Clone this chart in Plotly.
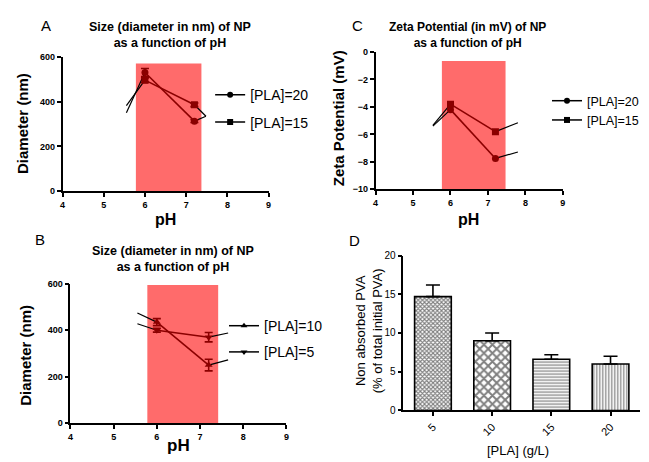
import plotly.graph_objects as go

W, H = 649, 462
FONT = "Liberation Sans, Arial, sans-serif"
DARK = "#8B0000"
PINK = "#FF6B6B"

# ---------------- data ----------------
ph = [6, 7.2]
ph_ticks = [4, 5, 6, 7, 8, 9]

# Panel A: diameter (nm)
a_pla20 = [530, 313]
a_pla20_err = [18, 6]
a_pla15 = [496, 386]
a_pla15_err = [10, 8]
a_zone = [5.78, 7.37, 0, 570]
a_ext_left_x = [5.55, 6]
a_ext20_left = [350, 530]
a_ext15_left = [382, 496]
a_ext_right_x = [7.2, 7.48]
a_ext20_right = [313, 335]
a_ext15_right = [386, 335]

# Panel B: diameter (nm)
b_pla10 = [435, 250]
b_pla10_err = [15, 25]
b_pla5 = [400, 370]
b_pla5_err = [8, 20]
b_zone = [5.78, 7.42, 0, 595]
b_ext_left_x = [5.55, 6]
b_ext10_left = [474, 435]
b_ext5_left = [428, 400]
b_ext_right_x = [7.2, 7.65]
b_ext10_right = [250, 272]
b_ext5_right = [370, 388]

# Panel C: zeta potential (mV)
c_pla20 = [-4.2, -7.75]
c_pla15 = [-3.8, -5.8]
c_zone = [5.77, 7.47, -10.2, -0.65]
c_ext_left_x = [5.53, 6]
c_ext20_left = [-5.4, -4.2]
c_ext15_left = [-5.35, -3.8]
c_ext_right_x = [7.2, 7.8]
c_ext20_right = [-7.75, -7.28]
c_ext15_right = [-5.8, -5.15]

# Panel D: non absorbed PVA (%)
d_cats = ["5", "10", "15", "20"]
d_vals = [14.7, 9.0, 6.6, 6.0]
d_err = [1.5, 1.0, 0.6, 1.0]
d_patterns = ["x", "x", "-", "|"]
d_pattern_sizes = [3, 6, 3, 3]
d_pattern_solidity = [0.6, 0.55, 0.4, 0.4]


def px(x):
    return x / W


def py(y):
    return 1 - y / H


fig = go.Figure()

axis_common = dict(showline=True, linecolor="black", linewidth=1.6, ticks="outside",
                   ticklen=4, tickwidth=1.5, tickcolor="black", showgrid=False,
                   zeroline=False, tickfont=dict(family=FONT, size=9, color="black", weight="bold"))


def add_line(x, y, xa, ya, color, symbol, err=None):
    fig.add_trace(go.Scatter(
        x=x, y=y, xaxis=xa, yaxis=ya, mode="lines+markers",
        line=dict(color=color, width=1.6),
        marker=dict(symbol=symbol, size=7, color=color),
        error_y=(dict(type="data", array=err, color=color, thickness=1.6, width=4)
                 if err else None),
        showlegend=False, hoverinfo="skip"))


def add_ext(x, y, xa, ya):
    fig.add_trace(go.Scatter(x=x, y=y, xaxis=xa, yaxis=ya, mode="lines",
                             line=dict(color="black", width=1.2),
                             showlegend=False, hoverinfo="skip"))


def add_legend(name, symbol, legend, group):
    fig.add_trace(go.Scatter(x=[None], y=[None], mode="lines+markers", name=name,
                             line=dict(color="black", width=1.5),
                             marker=dict(symbol=symbol, size=6, color="black"),
                             legend=legend, legendgroup=group, showlegend=True))


# Panel A (x, y)
add_ext(a_ext_left_x, a_ext20_left, "x", "y")
add_ext(a_ext_left_x, a_ext15_left, "x", "y")
add_ext(a_ext_right_x, a_ext20_right, "x", "y")
add_ext(a_ext_right_x, a_ext15_right, "x", "y")
add_line(ph, a_pla20, "x", "y", DARK, "circle", a_pla20_err)
add_line(ph, a_pla15, "x", "y", DARK, "square", a_pla15_err)
add_legend("[PLA]=20", "circle", "legend", "a1")
add_legend("[PLA]=15", "square", "legend", "a2")

# Panel C (x2, y2)
add_ext(c_ext_left_x, c_ext20_left, "x2", "y2")
add_ext(c_ext_left_x, c_ext15_left, "x2", "y2")
add_ext(c_ext_right_x, c_ext20_right, "x2", "y2")
add_ext(c_ext_right_x, c_ext15_right, "x2", "y2")
add_line(ph, c_pla20, "x2", "y2", DARK, "circle")
add_line(ph, c_pla15, "x2", "y2", DARK, "square")
add_legend("[PLA]=20", "circle", "legend2", "c1")
add_legend("[PLA]=15", "square", "legend2", "c2")

# Panel B (x3, y3)
add_ext(b_ext_left_x, b_ext10_left, "x3", "y3")
add_ext(b_ext_left_x, b_ext5_left, "x3", "y3")
add_ext(b_ext_right_x, b_ext10_right, "x3", "y3")
add_ext(b_ext_right_x, b_ext5_right, "x3", "y3")
add_line(ph, b_pla10, "x3", "y3", DARK, "triangle-up", b_pla10_err)
add_line(ph, b_pla5, "x3", "y3", DARK, "triangle-down", b_pla5_err)
add_legend("[PLA]=10", "triangle-up", "legend3", "b1")
add_legend("[PLA]=5", "triangle-down", "legend3", "b2")

# Panel D (x4, y4)
fig.add_trace(go.Bar(
    x=d_cats, y=d_vals, xaxis="x4", yaxis="y4", width=0.62,
    marker=dict(color="white", line=dict(color="black", width=1.6),
                pattern=dict(shape=d_patterns, size=d_pattern_sizes,
                             solidity=d_pattern_solidity,
                             fgcolor="black", bgcolor="white", fillmode="overlay")),
    error_y=dict(type="data", symmetric=False, array=d_err, arrayminus=[0] * len(d_err),
                 color="black", thickness=1.6, width=7),
    showlegend=False, hoverinfo="skip"))

# shapes (pH zones)
for xa, ya, z in [("x", "y", a_zone), ("x2", "y2", c_zone), ("x3", "y3", b_zone)]:
    fig.add_shape(type="rect", xref=xa, yref=ya, x0=z[0], x1=z[1], y0=z[2], y1=z[3],
                  fillcolor=PINK, line=dict(width=0), layer="below")

fig.update_layout(
    width=W, height=H, autosize=False,
    margin=dict(l=0, r=0, t=0, b=0),
    paper_bgcolor="white", plot_bgcolor="white",
    font=dict(family=FONT, color="black"),
    xaxis=dict(axis_common, domain=[px(52), px(260)], range=[4, 9], tickvals=ph_ticks, anchor="y"),
    yaxis=dict(axis_common, domain=[py(182), py(44)], range=[0, 600], dtick=200, anchor="x"),
    xaxis2=dict(axis_common, domain=[px(368), px(557)], range=[4, 9], tickvals=ph_ticks, anchor="y2"),
    yaxis2=dict(axis_common, domain=[py(180), py(39)], range=[-10, 0], dtick=2, anchor="x2"),
    xaxis3=dict(axis_common, domain=[px(60), px(278)], range=[4, 9], tickvals=ph_ticks, anchor="y3"),
    yaxis3=dict(axis_common, domain=[py(420), py(277)], range=[0, 600], dtick=200, anchor="x3"),
    xaxis4=dict(axis_common, domain=[px(396), px(635)], range=[-0.5, 3.5], anchor="y4",
                tickangle=-45, tickfont=dict(family=FONT, size=11, color="black")),
    yaxis4=dict(axis_common, domain=[py(407), py(248)], range=[0, 20], dtick=5, anchor="x4",
                tickfont=dict(family=FONT, size=10, color="black")),
    legend=dict(x=px(201), y=py(67), xanchor="left", yanchor="top", tracegroupgap=6,
                font=dict(family=FONT, size=14), bgcolor="rgba(0,0,0,0)", itemwidth=30),
    legend2=dict(x=px(541), y=py(74), xanchor="left", yanchor="top", tracegroupgap=0,
                 font=dict(family=FONT, size=12.5), bgcolor="rgba(0,0,0,0)", itemwidth=30),
    legend3=dict(x=px(215), y=py(304), xanchor="left", yanchor="top", tracegroupgap=5,
                 font=dict(family=FONT, size=14), bgcolor="rgba(0,0,0,0)", itemwidth=30),
)


def ann(text, x, y, size, bold=False, angle=0, xanchor="center"):
    fig.add_annotation(text=("<b>%s</b>" % text) if bold else text, x=px(x), y=py(y),
                       xref="paper", yref="paper", showarrow=False, textangle=angle,
                       xanchor=xanchor, yanchor="middle",
                       font=dict(family=FONT, size=size, color="black"))


# panel letters
ann("A", 35, 12, 15)
ann("C", 350, 12, 15)
ann("B", 29, 232, 15)
ann("D", 347, 233, 15)
# titles
ann("Size (diameter in nm) of NP<br>as a function of pH", 160, 21.5, 12.5, True)
ann("Zeta Potential (in mV) of NP<br>as a function of pH", 461, 21.5, 12, True)
ann("Size (diameter in nm) of NP<br>as a function of pH", 164, 251.5, 12.5, True)
# axis titles
ann("Diameter (nm)", 11, 112, 15, True, -90)
ann("pH", 156, 211, 16, True)
ann("Zeta Potential (mV)", 330, 107, 15, True, -90)
ann("pH", 462, 211, 16, True)
ann("Diameter (nm)", 15, 350, 15, True, -90)
ann("pH", 169, 443, 17, True)
ann("Non absorbed PVA<br>(% of total initial PVA)", 361, 325, 13, False, -90)
ann("[PLA] (g/L)", 512, 448, 13)

fig.write_html("out.html")
